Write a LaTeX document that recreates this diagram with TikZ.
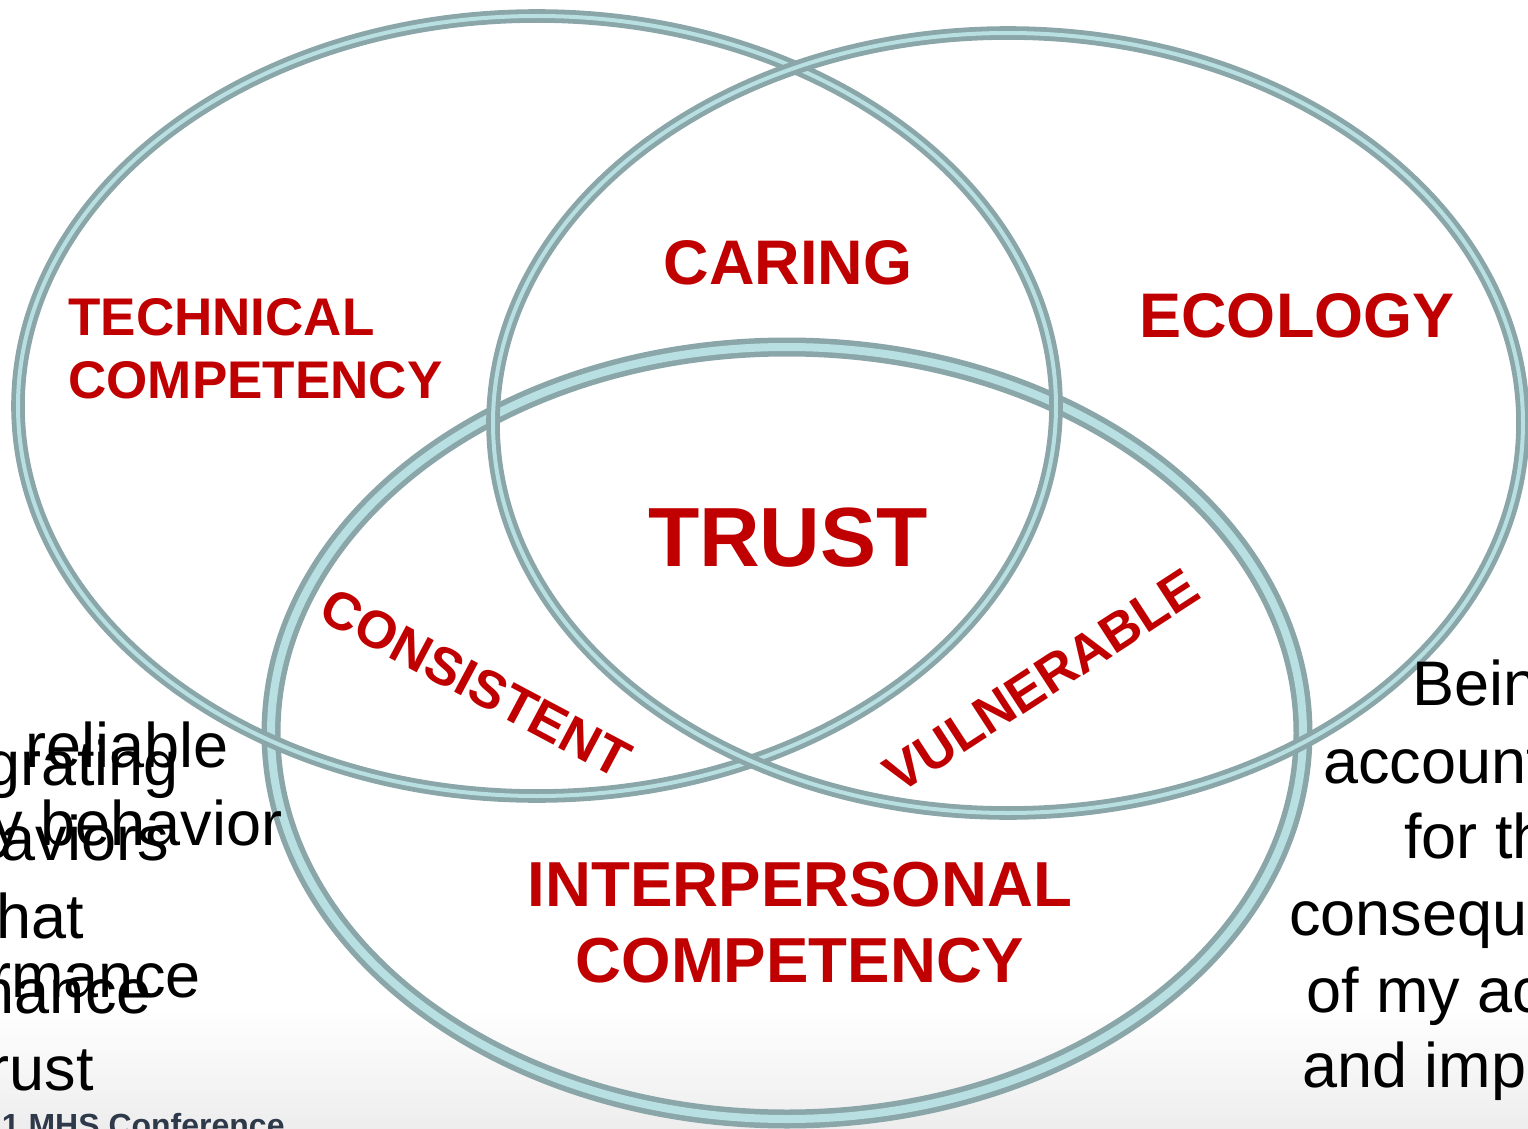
\documentclass[tikz,border=0pt]{standalone}
\usepackage{fontspec}
\setmainfont{Liberation Sans}
\definecolor{ringdark}{HTML}{8AA6A8}
\definecolor{ringlight}{HTML}{B8E0E3}
\definecolor{trustred}{HTML}{C00000}
\definecolor{footslate}{HTML}{2E3A4A}
\tikzset{
  ring/.style={draw=ringdark, double=ringlight, line width=2.4pt, double distance=2pt},
  bigring/.style={ring, line width=2.75pt, double distance=4pt},
  redlabel/.style={text=trustred, inner sep=0pt},
  bodytext/.style={text=black, inner sep=0pt, font=\fontsize{31.5}{38}\selectfont},
}

\begin{document}
\begin{tikzpicture}[x=0.5pt, y=-0.5pt]
	%%%%% FRAME %%%%%
	\useasboundingbox (0,0) rectangle (1528,1129);
	\clip (0,0) rectangle (1528,1129);
	\shade[top color=white, bottom color=gray!14] (0,1010) rectangle (1528,1129);
	
	%%%%% RINGS %%%%%
	\draw[bigring] (787,733) ellipse [x radius=516, y radius=386];
	\draw[ring] (537,406) ellipse [x radius=519, y radius=390];
	\draw[ring] (1008,423) ellipse [x radius=515, y radius=390];
	
	%%%%% LABELS %%%%%
	\node[redlabel, font=\bfseries\fontsize{26.5}{31.5}\selectfont, anchor=north west, align=left] (technical) at (68,298) {TECHNICAL\\COMPETENCY};
	\node[redlabel, font=\bfseries\fontsize{31.5}{38}\selectfont] (caring) at (788,263) {CARING};
	\node[redlabel, font=\bfseries\fontsize{31.5}{38}\selectfont] (ecology) at (1297,316) {ECOLOGY};
	\node[redlabel, font=\bfseries\fontsize{42}{50}\selectfont] (trust) at (788,538) {TRUST};
	\node[redlabel, font=\bfseries\fontsize{26.5}{30}\selectfont, rotate=-28] (consistent) at (476,683) {CONSISTENT};
	\node[redlabel, font=\bfseries\fontsize{26.5}{32}\selectfont, rotate=33] (vulnerable) at (1042,681) {VULNERABLE};
	\node[redlabel, font=\bfseries\fontsize{31.8}{38}\selectfont, anchor=north, align=center] (interpersonal) at (800,862) {INTERPERSONAL\\COMPETENCY};
	
	%%%%% LEFT TEXT (two layers) %%%%%
	\node[bodytext, anchor=base east] (rel) at (229,767) {reliable};
	\node[bodytext, anchor=base east] (beh) at (283,845) {y behavior};
	\node[bodytext, anchor=base east] (perf) at (201,997) {performance};
	
	\node[bodytext, anchor=base east] (integ) at (179,785) {Integrating};
	\node[bodytext, anchor=base east] (behs) at (169,860) {behaviors};
	\node[bodytext, anchor=base east] (that) at (84,938) {that};
	\node[bodytext, anchor=base east] (enh) at (152,1013) {enhance};
	\node[bodytext, anchor=base east] (tru) at (94,1090) {trust};
	
	%%%%% RIGHT TEXT %%%%%
	\node[bodytext, anchor=base west] (being) at (1412,705) {Being};
	\node[bodytext, anchor=base west] (acc) at (1323,783) {accountable};
	\node[bodytext, anchor=base west] (forthe) at (1404,858) {for the};
	\node[bodytext, anchor=base west] (cons) at (1289,935) {consequences};
	\node[bodytext, anchor=base west] (ofmy) at (1306,1012) {of my actions};
	\node[bodytext, anchor=base west] (andimp) at (1302,1087) {and impact};
	
	%%%%% FOOTER %%%%%
	\node[text=footslate, inner sep=0pt, font=\bfseries\fontsize{16}{19}\selectfont, anchor=north east] (footer) at (285,1113) {1 MHS Conference};
\end{tikzpicture}
\end{document}
